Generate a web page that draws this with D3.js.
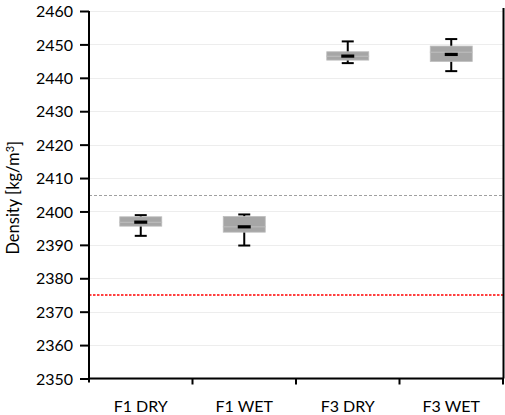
<!DOCTYPE html>
<html>
<head>
<meta charset="utf-8">
<script src="https://cdn.jsdelivr.net/npm/d3@7"></script>
<style>
  html, body { margin: 0; padding: 0; background: #fff; }
  svg { display: block; }
  text { font-family: Lato, "Noto Sans", sans-serif; fill: #000; }
</style>
</head>
<body>
<svg id="chart" width="505" height="415"></svg>
<script>
// Density box plots per mixture and curing condition
const categories = ["F1 DRY", "F1 WET", "F3 DRY", "F3 WET"];
const whiskerLow  = [2392.7, 2389.8, 2444.4, 2442.0];
const quartileLow = [2395.6, 2393.8, 2445.3, 2444.9];
const medians     = [2396.8, 2395.4, 2446.5, 2447.7];
const means       = [2396.8, 2395.4, 2446.5, 2447.0];
const quartileHigh= [2398.4, 2398.5, 2447.8, 2449.5];
const whiskerHigh = [2398.9, 2399.1, 2450.9, 2451.6];
const yTicks = [2350, 2360, 2370, 2380, 2390, 2400, 2410, 2420, 2430, 2440, 2450, 2460];
const refGray = 2405;
const refRed = 2375;

const svg = d3.select("#chart");
const plotLeft = 89, plotRight = 503, plotTop = 11, plotBottom = 378.5;

const x = d3.scaleBand().domain(categories).range([plotLeft, plotRight]).padding(0);
const y = d3.scaleLinear().domain([2350, 2460]).range([plotBottom, plotTop]);
const crisp = v => Math.round(v) + 0.5;

// horizontal gridlines
svg.append("g").selectAll("line").data(yTicks).join("line")
  .attr("x1", plotLeft).attr("x2", plotRight)
  .attr("y1", d => crisp(y(d))).attr("y2", d => crisp(y(d)))
  .attr("stroke", "#ededed").attr("stroke-width", 1);

// reference levels
svg.append("line")
  .attr("x1", plotLeft).attr("x2", plotRight)
  .attr("y1", crisp(y(refGray))).attr("y2", crisp(y(refGray)))
  .attr("stroke", "#a0a0a0").attr("stroke-width", 1.2)
  .attr("stroke-dasharray", "3,2");
svg.append("line")
  .attr("x1", plotLeft).attr("x2", plotRight)
  .attr("y1", y(refRed)).attr("y2", y(refRed))
  .attr("stroke", "#ff0000").attr("stroke-width", 1.5)
  .attr("stroke-dasharray", "2.5,1.5");

const data = categories.map((c, i) => ({
  c, lo: whiskerLow[i], q1: quartileLow[i], med: medians[i],
  mean: means[i], q3: quartileHigh[i], hi: whiskerHigh[i]
}));

const boxW = 42, capW = 12, meanW = 13;
const g = svg.append("g").selectAll("g").data(data).join("g")
  .attr("transform", d => `translate(${x(d.c) + x.bandwidth() / 2},0)`);

// whiskers
g.append("line").attr("x1", 0).attr("x2", 0)
  .attr("y1", d => y(d.hi)).attr("y2", d => y(d.lo))
  .attr("stroke", "#000").attr("stroke-width", 2);
g.append("line").attr("x1", -capW / 2).attr("x2", capW / 2)
  .attr("y1", d => y(d.hi)).attr("y2", d => y(d.hi))
  .attr("stroke", "#000").attr("stroke-width", 2);
g.append("line").attr("x1", -capW / 2).attr("x2", capW / 2)
  .attr("y1", d => y(d.lo)).attr("y2", d => y(d.lo))
  .attr("stroke", "#000").attr("stroke-width", 2);

// lower and upper box halves
g.append("rect")
  .attr("x", -boxW / 2).attr("width", boxW)
  .attr("y", d => y(d.med)).attr("height", d => y(d.q1) - y(d.med))
  .attr("fill", "#a6a6a6").attr("stroke", "#bdbdbd").attr("stroke-width", 0.8);
g.append("rect")
  .attr("x", -boxW / 2).attr("width", boxW)
  .attr("y", d => y(d.q3)).attr("height", d => y(d.med) - y(d.q3))
  .attr("fill", "#a6a6a6").attr("stroke", "#bdbdbd").attr("stroke-width", 0.8);

// mean marker
g.append("line").attr("x1", -meanW / 2).attr("x2", meanW / 2)
  .attr("y1", d => y(d.mean)).attr("y2", d => y(d.mean))
  .attr("stroke", "#000").attr("stroke-width", 3.2);

// axes
const yAxis = svg.append("g").attr("transform", `translate(${plotLeft},0)`)
  .call(d3.axisLeft(y).tickValues(yTicks).tickSize(9).tickPadding(7).tickFormat(d3.format("d")));
yAxis.select(".domain").attr("stroke", "#000").attr("stroke-width", 2)
  .attr("d", `M0,${plotTop}V${plotBottom + 4}`);
yAxis.selectAll(".tick line").attr("stroke", "#000").attr("stroke-width", 2);
yAxis.selectAll("text").style("font-size", "16px").attr("dy", "0.35em");

const xAxis = svg.append("g").attr("transform", `translate(0,${plotBottom})`);
xAxis.append("line").attr("x1", plotLeft - 1).attr("x2", plotRight + 1)
  .attr("y1", 0).attr("y2", 0).attr("stroke", "#000").attr("stroke-width", 2);
xAxis.selectAll("line.tk").data(categories).join("line").attr("class", "tk")
  .attr("x1", d => x(d) + x.bandwidth()).attr("x2", d => x(d) + x.bandwidth())
  .attr("y1", 0).attr("y2", 6).attr("stroke", "#000").attr("stroke-width", 2);
xAxis.selectAll("text").data(categories).join("text")
  .attr("x", d => x(d) + x.bandwidth() / 2).attr("y", 33)
  .attr("text-anchor", "middle").style("font-size", "16px").text(d => d);

// right frame edge
svg.append("line").attr("x1", plotRight + 0.5).attr("x2", plotRight + 0.5)
  .attr("y1", plotTop - 3).attr("y2", plotBottom)
  .attr("stroke", "#000").attr("stroke-width", 2);

// y-axis title
const title = svg.append("text")
  .attr("transform", `translate(19,${(plotTop + plotBottom) / 2 + 3}) rotate(-90)`)
  .attr("text-anchor", "middle").style("font-size", "16.5px");
title.append("tspan").text("Density [kg/m");
title.append("tspan").text("3").attr("dy", "-0.45em").style("font-size", "11px");
title.append("tspan").text("]").attr("dy", "0.45em");
</script>
</body>
</html>
